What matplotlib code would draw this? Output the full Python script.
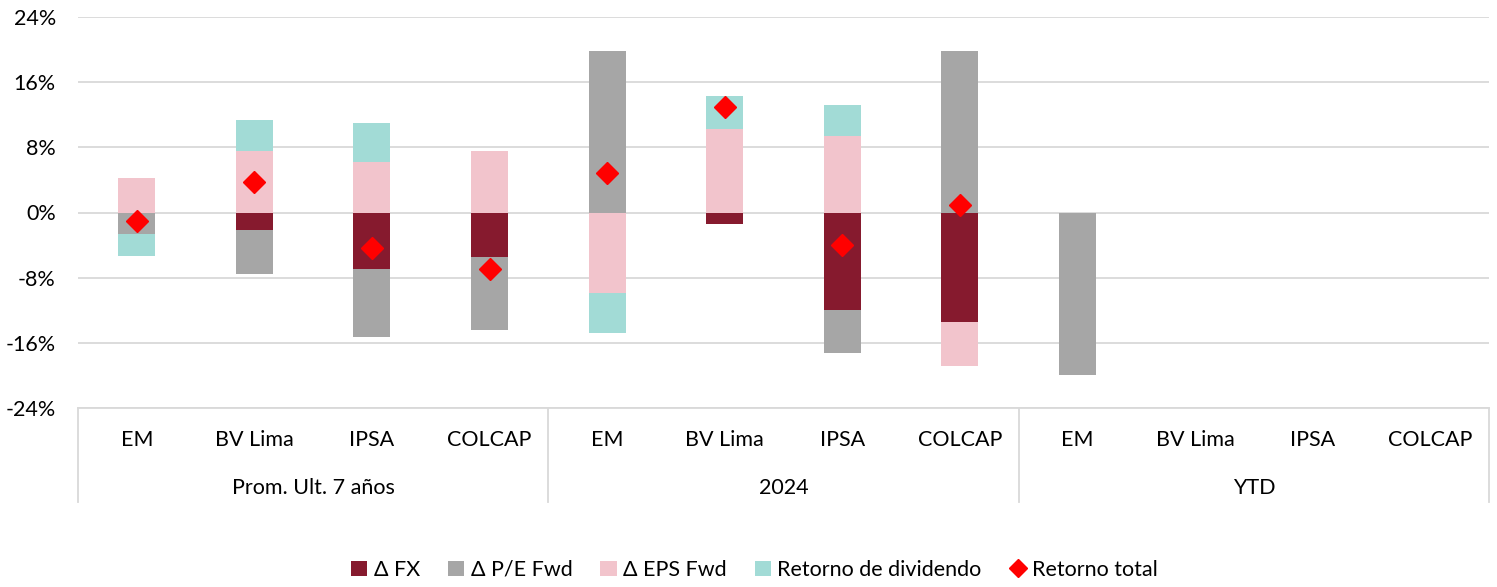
import numpy as np
import matplotlib.pyplot as plt
from matplotlib.patches import Patch
from matplotlib.lines import Line2D

plt.rcParams['font.family'] = ['Lato', 'DejaVu Sans']

groups = ['Prom. Ult. 7 años', '2024', 'YTD']
indices = ['EM', 'BV Lima', 'IPSA', 'COLCAP']
labels = indices * 3

fx = [0.0, -2.1, -6.9, -5.5, 0.0, -1.4, -12.0, -13.45, 0.0, 0.0, 0.0, 0.0]
pe = [-2.6, -5.5, -8.4, -8.9, 19.8, 0.0, -5.3, 19.8, -19.9, 0.0, 0.0, 0.0]
eps = [4.2, 7.6, 6.2, 7.5, -9.85, 10.3, 9.45, -5.45, 0.0, 0.0, 0.0, 0.0]
div = [-2.7, 3.8, 4.8, 0.0, -5.0, 4.0, 3.8, 0.0, 0.0, 0.0, 0.0, 0.0]
total = [-1.1, 3.8, -4.3, -6.9, 4.9, 12.9, -4.05, 0.9, np.nan, np.nan, np.nan, np.nan]

series = [
    ('Δ FX', fx, '#861A2E'),
    ('Δ P/E Fwd', pe, '#A6A6A6'),
    ('Δ EPS Fwd', eps, '#F2C4CC'),
    ('Retorno de dividendo', div, '#A2DBD6'),
]

fs = 15.5

fig = plt.figure(figsize=(14.97, 5.87), dpi=100)
ax = fig.add_axes([78 / 1497, 1 - 408 / 587, (1489 - 78) / 1497, (408 - 17) / 587])

x = np.arange(len(labels))
pos_base = np.zeros(len(labels))
neg_base = np.zeros(len(labels))
for name, vals, color in series:
    v = np.array(vals)
    bottom = np.where(v >= 0, pos_base, neg_base)
    ax.bar(x, v, 0.315, bottom=bottom, color=color, label=name, zorder=2)
    pos_base += np.where(v > 0, v, 0)
    neg_base += np.where(v < 0, v, 0)

ax.plot(x, total, 'D', color='#FF0000', markersize=11, zorder=3, label='Retorno total')

ax.set_xlim(-0.5, len(labels) - 0.5)
ax.set_ylim(-24, 24)
ax.set_yticks(np.arange(-24, 25, 8))
ax.set_yticklabels([f'{t}%' for t in range(-24, 25, 8)])
ax.grid(axis='y', color='#D9D9D9', linewidth=1.3, zorder=0)
ax.tick_params(axis='y', length=0, labelsize=fs, pad=16)
for s in ['top', 'right', 'left']:
    ax.spines[s].set_visible(False)
ax.spines['bottom'].set_color('#D9D9D9')
ax.spines['bottom'].set_linewidth(1.3)

ax.set_xticks(x)
ax.set_xticklabels(labels, fontsize=fs)
ax.tick_params(axis='x', length=0, pad=16)

# group labels and separators
for i, g in enumerate(groups):
    ax.text(i * 4 + 1.5, -0.205, g, transform=ax.get_xaxis_transform(),
            ha='center', va='center', fontsize=fs)
for b in [-0.5, 3.5, 7.5, 11.5]:
    ax.plot([b, b], [0, -0.24], transform=ax.get_xaxis_transform(),
            color='#D9D9D9', linewidth=1.3, clip_on=False)

handles = [Patch(facecolor=c, label=n) for n, _, c in series]
handles.append(Line2D([], [], marker='D', color='#FF0000', linestyle='none',
                      markersize=9, label='Retorno total'))
fig.legend(handles=handles, loc='center', bbox_to_anchor=(0.504, 0.029), ncol=5,
           frameon=False, fontsize=fs, handlelength=0.75, handleheight=0.75,
           handletextpad=0.3, columnspacing=1.3)

fig.savefig('out.png', dpi=100)
